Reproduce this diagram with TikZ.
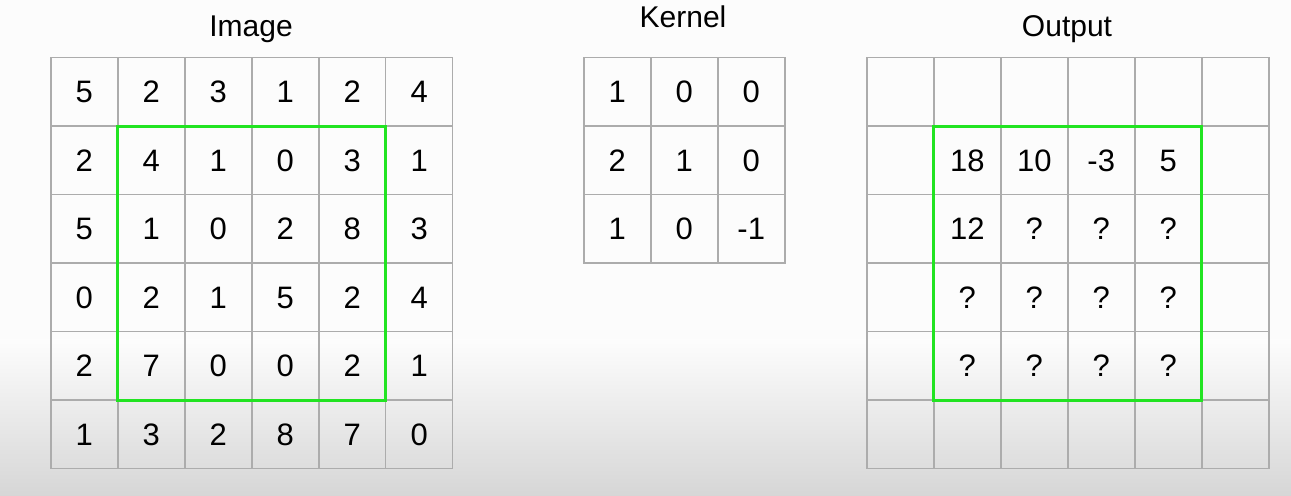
\documentclass[tikz,border=0pt]{standalone}
\usepackage{fontspec}
\setmainfont{Liberation Sans}
\usetikzlibrary{matrix}

\definecolor{gridgray}{RGB}{172,172,172}
\definecolor{wingreen}{RGB}{34,228,34}

\tikzset{
  cellgrid/.style = {matrix of nodes, nodes in empty cells, anchor = north west,
    inner sep = 0pt, outer sep = 0pt, column sep = -.75pt, row sep = -.75pt,
    nodes = {draw = gridgray, line width = .75pt, anchor = center,
      minimum width = 33.5pt, minimum height = 34.25pt,
      inner sep = 0pt, outer sep = 0pt, font = \fontsize{15.5}{18}\selectfont}},
  title/.style = {anchor = base, font = \fontsize{15}{18}\selectfont},
  window/.style = {draw = wingreen, line width = 1.5pt}
}

\begin{document}
\begin{tikzpicture} [x = 0.5pt, y = -0.5pt]
\useasboundingbox (0,0) rectangle (1291,496);
\fill [white!99!black] (0,0) rectangle (1291,496);
\shade [top color = white!99!black, bottom color = white!84!black] (0,340) rectangle (1291,496);

\matrix (img) [cellgrid] at (50,57) {
5 & 2 & 3 & 1 & 2 & 4 \\
2 & 4 & 1 & 0 & 3 & 1 \\
5 & 1 & 0 & 2 & 8 & 3 \\
0 & 2 & 1 & 5 & 2 & 4 \\
2 & 7 & 0 & 0 & 2 & 1 \\
1 & 3 & 2 & 8 & 7 & 0 \\
};
\matrix (krn) [cellgrid] at (583,57) {
1 & 0 & 0 \\
2 & 1 & 0 \\
1 & 0 & -1 \\
};
\matrix (out) [cellgrid] at (866,57) {
 &    &    &    &   & \\
 & 18 & 10 & -3 & 5 & \\
 & 12 & ?  & ?  & ? & \\
 & ?  & ?  & ?  & ? & \\
 & ?  & ?  & ?  & ? & \\
 &    &    &    &   & \\
};

\node [title] (imgtitle) at (251,37) {Image};
\node [title] (krntitle) at (683,28) {Kernel};
\node [title] (outtitle) at (1067,37) {Output};

\draw [window] (img-2-2.north west) rectangle (img-5-5.south east);
\draw [window] (out-2-2.north west) rectangle (out-5-5.south east);
\end{tikzpicture}
\end{document}
